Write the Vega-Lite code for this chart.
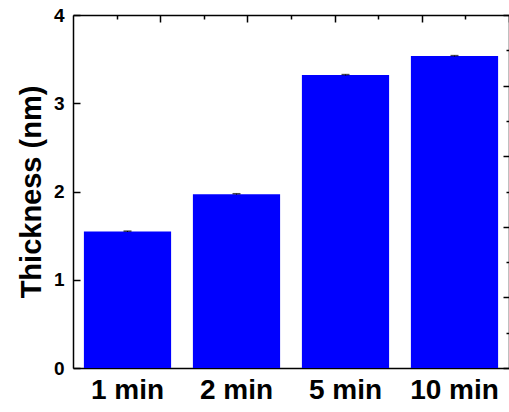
{
  "$schema": "https://vega.github.io/schema/vega-lite/v6.json",
  "width": 436,
  "height": 353,
  "autosize": {"type": "none"},
  "padding": {"left": 73, "top": 15, "right": 0, "bottom": 44},
  "background": "white",
  "config": {
    "font": "Liberation Sans",
    "view": {"stroke": null},
    "axis": {"domainColor": "black", "tickColor": "black", "labelColor": "black", "titleColor": "black", "labelFontWeight": "bold", "titleFontWeight": "bold", "grid": false}
  },
  "data": {"values": [
    {"kind": "1 min", "value": 1.546, "lo": 1.541, "hi": 1.551},
    {"kind": "2 min", "value": 1.970, "lo": 1.965, "hi": 1.975},
    {"kind": "5 min", "value": 3.320, "lo": 3.315, "hi": 3.325},
    {"kind": "10 min", "value": 3.535, "lo": 3.530, "hi": 3.540}
  ]},
  "layer": [
    {
      "layer": [
        {
          "mark": {"type": "bar", "color": "#0000ff"},
          "encoding": {
            "x": {"field": "kind", "type": "nominal", "sort": null, "scale": {"type": "band", "paddingInner": 0.2, "paddingOuter": 0.1},
                  "axis": {"orient": "bottom", "title": null, "labelAngle": 0, "labelFontSize": 28, "ticks": false, "labelPadding": 8, "domainWidth": 1.5}},
            "y": {"field": "value", "type": "quantitative", "scale": {"domain": [0, 4], "nice": false},
                  "axis": {"orient": "left", "values": [0, 1, 2, 3, 4], "format": "d", "tickSize": -7, "tickWidth": 1.5, "labelFontSize": 19, "labelPadding": 16, "title": "Thickness (nm)", "titleFontSize": 29, "titlePadding": 7, "domainWidth": 1.5}}
          }
        },
        {
          "mark": {"type": "rule", "color": "black", "strokeWidth": 1},
          "encoding": {
            "x": {"field": "kind", "type": "nominal", "sort": null},
            "y": {"field": "lo", "type": "quantitative"},
            "y2": {"field": "hi"}
          }
        },
        {
          "mark": {"type": "tick", "color": "black", "thickness": 1.5, "size": 8},
          "encoding": {
            "x": {"field": "kind", "type": "nominal", "sort": null},
            "y": {"field": "hi", "type": "quantitative"}
          }
        }
      ]
    },
    {
      "mark": {"type": "point", "opacity": 0},
      "encoding": {
        "x": {"field": "value", "type": "quantitative", "scale": {"domain": [0, 10], "nice": false, "zero": false},
              "axis": {"orient": "top", "values": [2, 4, 6, 8, 10], "tickSize": -7, "tickWidth": 1.5, "labels": false, "domain": true, "domainWidth": 1.5, "title": null}},
        "y": {"field": "value", "type": "quantitative", "scale": {"domain": [0, 4], "nice": false},
              "axis": {"orient": "right", "values": [0, 0.8, 1.6, 2.4, 3.2, 4], "tickSize": -6, "tickWidth": 1.5, "labels": false, "domain": true, "domainWidth": 1.5, "title": null}}
      }
    },
    {
      "mark": {"type": "point", "opacity": 0},
      "encoding": {
        "x": {"field": "value", "type": "quantitative", "scale": {"domain": [0, 10], "nice": false, "zero": false},
              "axis": {"orient": "top", "values": [1, 3, 5, 7, 9], "tickSize": -4, "tickWidth": 1.5, "labels": false, "domain": false, "title": null}},
        "y": {"field": "value", "type": "quantitative", "scale": {"domain": [0, 4], "nice": false},
              "axis": {"orient": "right", "values": [0.4, 1.2, 2, 2.8, 3.6], "tickSize": -3, "tickWidth": 1.5, "labels": false, "domain": false, "title": null}}
      }
    }
  ],
  "resolve": {"scale": {"x": "independent"}, "axis": {"x": "independent", "y": "independent"}}
}
